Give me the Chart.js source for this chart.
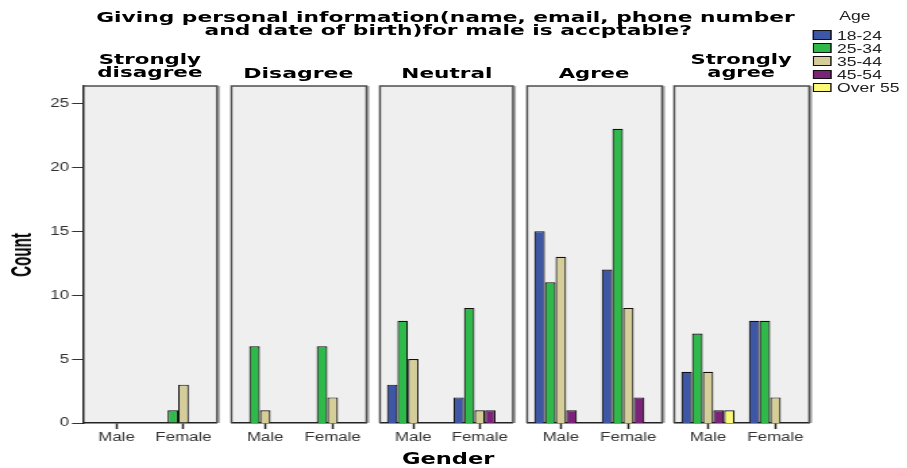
<!DOCTYPE html>
<html>
<head>
<meta charset="utf-8">
<script src="https://cdn.jsdelivr.net/npm/chart.js@4.4.0/dist/chart.umd.min.js"></script>
<style>
  html, body { margin: 0; padding: 0; background: #fff; }
  body { width: 907px; height: 468px; overflow: hidden; position: relative; }
  #stage { position: absolute; left: 0; top: 0; width: 672px; height: 468px;
           transform: scaleX(1.35); transform-origin: 0 0; }
  .txt { position: absolute; white-space: nowrap; line-height: 1; transform-origin: center center; }
  .bold { font-family: "DejaVu Sans", sans-serif; font-weight: bold; color: #000; }
  .plain { font-family: "Liberation Sans", Arial, sans-serif; color: #222; }
  .swatch { position: absolute; border: 1px solid #111; box-sizing: border-box; }
  canvas { position: absolute; }
</style>
</head>
<body>
<div id="stage"></div>
<script>
// The picture is stretched sideways, so everything is laid out on a narrower
// stage and scaled by STRETCH. Positions below are in picture pixels.
const STRETCH = 1.35;

const responses = ['Strongly disagree', 'Disagree', 'Neutral', 'Agree', 'Strongly agree'];
const genders = ['Male', 'Female'];
const ageGroups = ['18-24', '25-34', '35-44', '45-54', 'Over 55'];
const ageColors = ['#3d56a6', '#2fb94b', '#d5ce98', '#7b2379', '#fbf977'];

// Counts per response panel as [Male, Female]; null = no bar
const age18to24 = [[null, null], [null, null], [3, 2], [15, 12], [4, 8]];
const age25to34 = [[null, 1], [6, 6], [8, 9], [11, 23], [7, 8]];
const age35to44 = [[null, 3], [1, 2], [5, 1], [13, 9], [4, 2]];
const age45to54 = [[null, null], [null, null], [null, 1], [1, 2], [1, null]];
const age55plus = [[null, null], [null, null], [null, null], [null, null], [1, null]];
const ageSeries = [age18to24, age25to34, age35to44, age45to54, age55plus];

const yTicks = [0, 5, 10, 15, 20, 25];
const yMax = 26.35;

// panel frames in the picture
const panelLeft = [83, 231, 380, 527, 674];
const panelRight = [217, 366, 513, 662, 809];
const plotTop = 86;
const plotBottom = 423;
const canvasTop = plotTop - 12;
const canvasBottom = 448;

const stage = document.getElementById('stage');

const panelFrame = {
  id: 'panelFrame',
  beforeDraw(chart) {
    const { ctx, chartArea: a } = chart;
    ctx.save();
    ctx.fillStyle = '#efefef';
    ctx.fillRect(a.left, a.top, a.right - a.left, a.bottom - a.top);
    ctx.restore();
  },
  afterDraw(chart, args, opts) {
    const { ctx, chartArea: a } = chart;
    ctx.save();
    ctx.lineWidth = 1.5;
    ctx.strokeStyle = '#a8a8a8';
    ctx.beginPath();
    ctx.moveTo(a.right + 1.4, a.top);
    ctx.lineTo(a.right + 1.4, a.bottom);
    ctx.stroke();
    ctx.strokeStyle = '#4d4d4d';
    ctx.beginPath();
    if (opts.first) {
      ctx.moveTo(a.left, a.top);
    } else {
      ctx.moveTo(a.left, a.bottom);
      ctx.lineTo(a.left, a.top);
    }
    ctx.lineTo(a.right, a.top);
    ctx.lineTo(a.right, a.bottom);
    ctx.stroke();
    ctx.restore();
  }
};

function makePanel(i) {
  const first = i === 0;
  const left = first ? 0 : panelLeft[i] - 6;
  const right = panelRight[i] + 6;
  const canvas = document.createElement('canvas');
  const width = Math.round((right - left) / STRETCH);
  canvas.width = width;
  canvas.height = canvasBottom - canvasTop;
  canvas.style.left = (left / STRETCH) + 'px';
  canvas.style.top = canvasTop + 'px';
  stage.appendChild(canvas);

  const padLeft = first ? 0 : (panelLeft[i] - left) / STRETCH;
  const padRight = width - (panelRight[i] - left) / STRETCH;

  new Chart(canvas, {
    type: 'bar',
    data: {
      labels: genders,
      datasets: ageGroups.map((g, k) => ({
        label: g,
        data: ageSeries[k][i],
        backgroundColor: ageColors[k],
        borderColor: '#111',
        borderWidth: 1.2,
        categoryPercentage: 0.79,
        barPercentage: 1,
      })),
    },
    options: {
      responsive: false,
      animation: false,
      layout: { padding: { top: plotTop - canvasTop, left: padLeft, right: padRight, bottom: 0 } },
      plugins: {
        legend: { display: false },
        tooltip: { enabled: false },
        panelFrame: { first },
      },
      scales: {
        x: {
          offset: true,
          grid: { drawOnChartArea: false, offset: false, tickLength: 6, tickColor: '#222', tickWidth: 1.5 },
          border: { color: '#222', width: 1.5 },
          ticks: { color: '#333', font: { family: 'Liberation Sans', size: 12.5 }, padding: 1, maxRotation: 0, autoSkip: false },
          afterFit: s => { s.height = canvasBottom - plotBottom; },
        },
        y: {
          display: first,
          min: 0,
          max: yMax,
          afterBuildTicks: s => { s.ticks = yTicks.map(v => ({ value: v })); },
          grid: { drawOnChartArea: false, tickLength: 11 / STRETCH, tickColor: '#333', tickWidth: 1 },
          border: { color: '#222', width: 1.5 },
          ticks: { color: '#333', font: { family: 'Liberation Sans', size: 12.5 }, padding: 3 / STRETCH },
          afterFit: s => { s.width = first ? panelLeft[0] / STRETCH : 0; },
        },
      },
    },
    plugins: [panelFrame],
  });
}

function addText(str, cx, baseline, size, cls, width) {
  const el = document.createElement('div');
  el.className = 'txt ' + cls;
  el.textContent = str;
  el.style.fontSize = size + 'px';
  el.style.left = (cx / STRETCH) + 'px';
  el.style.top = (baseline - 0.846 * size) + 'px';
  stage.appendChild(el);
  const k = width ? (width / STRETCH) / el.offsetWidth : 1;
  el.style.transform = `translateX(-50%) scaleX(${k})`;
  return el;
}

function addLeftText(str, x, baseline, size, cls) {
  const el = document.createElement('div');
  el.className = 'txt ' + cls;
  el.textContent = str;
  el.style.fontSize = size + 'px';
  el.style.left = (x / STRETCH) + 'px';
  el.style.top = (baseline - 0.846 * size) + 'px';
  stage.appendChild(el);
  return el;
}

responses.forEach((r, i) => makePanel(i));

// title
addText('Giving personal information(name, email, phone number', 446, 22, 14, 'bold', 698);
addText('and date of birth)for male is accptable?', 448, 35, 14, 'bold', 488);

// panel headers
const panelCenter = i => (panelLeft[i] + panelRight[i]) / 2;
addText('Strongly', panelCenter(0), 64, 14, 'bold', 102);
addText('disagree', panelCenter(0), 77, 14, 'bold', 106);
addText('Disagree', panelCenter(1), 78, 14, 'bold', 110);
addText('Neutral', panelCenter(2), 78, 14, 'bold', 91);
addText('Agree', panelCenter(3), 78, 14, 'bold', 71);
addText('Strongly', panelCenter(4), 64, 14, 'bold', 101);
addText('agree', panelCenter(4), 77, 14, 'bold', 67);

// axis titles
addText('Gender', 448, 465, 16, 'bold', 93);
const count = document.createElement('div');
count.className = 'txt plain';
count.textContent = 'Count';
count.style.cssText += 'font-size:22px;font-weight:bold;color:#000;';
count.style.left = (21 / STRETCH) + 'px';
count.style.top = '255px';
stage.appendChild(count);
count.style.transform = `translate(-50%, -50%) rotate(-90deg) scaleX(${44 / count.offsetWidth})`;

// legend
addText('Age', 855, 20, 13, 'plain');
ageGroups.forEach((g, k) => {
  const base = 39.5 + k * 13.2;
  const sw = document.createElement('div');
  sw.className = 'swatch';
  sw.style.left = (813 / STRETCH) + 'px';
  sw.style.top = (base - 9.5) + 'px';
  sw.style.width = (18 / STRETCH) + 'px';
  sw.style.height = '9.5px';
  sw.style.background = ageColors[k];
  stage.appendChild(sw);
  addLeftText(g, 837, base, 13, 'plain');
});
</script>
</body>
</html>
